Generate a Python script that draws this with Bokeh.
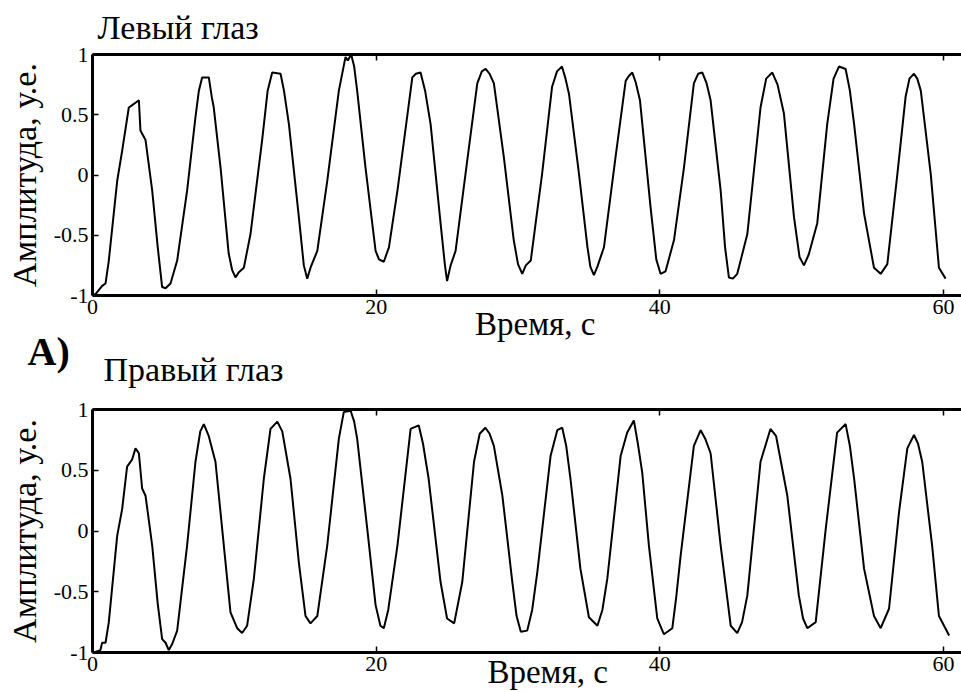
from bokeh.embed import file_html
from bokeh.layouts import column
from bokeh.models import FixedTicker, LinearAxis, Range1d, Title
from bokeh.plotting import figure
from bokeh.resources import INLINE

# Eye-movement recordings, time in seconds, amplitude in arbitrary units
left_t = [0.0, 0.2, 0.68, 0.92, 1.15, 1.74, 2.09, 2.56, 2.8, 3.03,
          3.27, 3.38, 3.74, 4.21, 4.6, 4.91, 5.15, 5.5, 5.97, 6.67,
          7.26, 7.5, 7.73, 8.2, 8.42, 8.55, 9.03, 9.6, 9.85, 10.08,
          10.3, 10.67, 11.14, 11.96, 12.35, 12.67, 13.26, 13.5, 13.85, 14.55,
          14.9, 15.14, 15.4, 15.85, 16.55, 17.37, 17.84, 18.0, 18.24, 18.45,
          18.66, 19.25, 19.96, 20.2, 20.54, 20.9, 21.5, 22.55, 22.8, 23.13,
          23.45, 23.84, 24.54, 24.85, 25.0, 25.25, 25.6, 26.3, 27.13, 27.45,
          27.72, 28.0, 28.3, 29.0, 29.7, 30.0, 30.3, 30.55, 30.9, 31.7,
          32.4, 32.75, 33.1, 33.35, 33.6, 34.3, 34.9, 35.1, 35.35, 35.6,
          36.06, 36.88, 37.59, 37.8, 38.06, 38.3, 38.6, 39.35, 39.75, 40.05,
          40.4, 41.0, 41.7, 42.4, 42.7, 43.0, 43.3, 43.58, 44.29, 44.6,
          44.87, 45.15, 45.46, 46.17, 47.1, 47.5, 47.93, 48.3, 48.75, 49.46,
          49.85, 50.16, 50.5, 51.1, 51.8, 52.25, 52.63, 53.1, 53.4, 53.7,
          54.4, 55.1, 55.57, 56.04, 56.75, 57.33, 57.6, 57.92, 58.15, 58.4,
          59.1, 59.68, 60.15]
left_amp = [-1.0, -0.99, -0.92, -0.9, -0.71, -0.05, 0.2, 0.56, 0.58, 0.6,
            0.62, 0.37, 0.29, -0.13, -0.6, -0.93, -0.94, -0.9, -0.71, -0.13,
            0.48, 0.7, 0.81, 0.81, 0.64, 0.56, 0.06, -0.65, -0.79, -0.85,
            -0.81, -0.77, -0.49, 0.29, 0.7, 0.85, 0.84, 0.7, 0.42, -0.35,
            -0.75, -0.86, -0.76, -0.63, -0.05, 0.7, 0.98, 0.95, 1.0, 0.9,
            0.7, 0.06, -0.63, -0.7, -0.72, -0.6, -0.13, 0.81, 0.84, 0.85,
            0.7, 0.42, -0.4, -0.75, -0.88, -0.75, -0.63, 0.01, 0.76, 0.86,
            0.88, 0.84, 0.76, 0.15, -0.54, -0.74, -0.82, -0.75, -0.71, 0.01,
            0.73, 0.86, 0.9, 0.8, 0.67, 0.01, -0.6, -0.76, -0.83, -0.76,
            -0.6, 0.15, 0.78, 0.82, 0.85, 0.77, 0.62, -0.27, -0.7, -0.82,
            -0.8, -0.54, 0.06, 0.76, 0.84, 0.85, 0.76, 0.62, -0.13, -0.6,
            -0.85, -0.86, -0.82, -0.49, 0.56, 0.8, 0.85, 0.75, 0.51, -0.35,
            -0.68, -0.75, -0.66, -0.4, 0.42, 0.8, 0.9, 0.88, 0.7, 0.42,
            -0.32, -0.77, -0.82, -0.74, 0.01, 0.65, 0.8, 0.84, 0.8, 0.7,
            0.01, -0.77, -0.86]

right_t = [0.1, 0.56, 0.68, 0.92, 1.15, 1.74, 2.09, 2.44, 2.8, 3.03,
           3.27, 3.5, 3.74, 4.21, 4.6, 4.91, 5.15, 5.38, 5.62, 5.97,
           6.67, 7.26, 7.6, 7.85, 8.2, 8.67, 9.14, 9.73, 10.2, 10.55,
           10.9, 11.38, 12.08, 12.55, 13.03, 13.38, 13.96, 14.55, 15.02, 15.37,
           15.85, 16.55, 17.37, 17.72, 18.2, 18.45, 18.66, 19.37, 19.96, 20.3,
           20.54, 20.85, 21.5, 22.43, 23.0, 23.3, 23.7, 24.54, 25.0, 25.5,
           26.07, 26.9, 27.3, 27.7, 28.0, 28.3, 28.9, 29.6, 29.9, 30.2,
           30.65, 31.0, 31.36, 32.3, 32.77, 33.12, 33.4, 33.7, 34.4, 35.0,
           35.6, 35.95, 36.3, 37.24, 37.7, 38.17, 38.45, 38.76, 39.23, 39.82,
           40.29, 40.88, 41.15, 41.47, 42.4, 42.88, 43.2, 43.58, 44.29, 45.0,
           45.46, 45.8, 46.17, 47.1, 47.8, 48.2, 48.99, 49.8, 50.1, 50.4,
           50.99, 51.7, 52.5, 53.1, 53.4, 53.7, 54.4, 55.1, 55.57, 56.16,
           56.86, 57.45, 57.92, 58.2, 58.5, 59.2, 59.68, 60.4]
right_amp = [-1.0, -0.98, -0.92, -0.92, -0.75, -0.04, 0.18, 0.53, 0.59, 0.68,
             0.64, 0.35, 0.29, -0.12, -0.6, -0.89, -0.92, -0.98, -0.93, -0.82,
             -0.12, 0.57, 0.82, 0.88, 0.78, 0.57, 0.02, -0.67, -0.8, -0.84,
             -0.78, -0.39, 0.43, 0.84, 0.9, 0.82, 0.43, -0.26, -0.7, -0.76,
             -0.7, -0.12, 0.76, 0.98, 0.99, 0.9, 0.76, 0.02, -0.61, -0.78,
             -0.8, -0.65, -0.12, 0.84, 0.87, 0.72, 0.43, -0.42, -0.72, -0.76,
             -0.42, 0.57, 0.8, 0.85, 0.8, 0.7, 0.29, -0.42, -0.7, -0.83,
             -0.82, -0.65, -0.34, 0.62, 0.83, 0.85, 0.7, 0.43, -0.31, -0.71,
             -0.78, -0.65, -0.39, 0.62, 0.81, 0.91, 0.72, 0.48, -0.12, -0.72,
             -0.85, -0.8, -0.55, -0.2, 0.7, 0.83, 0.76, 0.64, -0.12, -0.78,
             -0.84, -0.75, -0.53, 0.57, 0.84, 0.78, 0.29, -0.53, -0.72, -0.8,
             -0.75, 0.02, 0.81, 0.88, 0.7, 0.43, -0.31, -0.7, -0.8, -0.64,
             0.15, 0.68, 0.79, 0.72, 0.57, -0.12, -0.7, -0.86]

x_ticks = [0, 20, 40, 60]
y_ticks = [-1, -0.5, 0, 0.5, 1]
y_tick_labels = ["-1", "-0.5", "0", "0.5", "1"]
panel_titles = ["Левый глаз", "Правый глаз"]
x_label = "Время, с"
y_label = "Амплитуда, у.е."
panel_tag = "A)"

SERIF = "Liberation Serif"
X_END = 61.27
NBSP = "\u00a0"


def title(text, offset, standoff, size="34px", style="normal", valign="bottom"):
    return Title(text=text, align="left", offset=offset, standoff=standoff,
                 vertical_align=valign,
                 text_font=SERIF, text_font_size=size, text_font_style=style,
                 text_color="black")


def style_axis(ax):
    ax.axis_line_color = "black"
    ax.axis_line_width = 3
    ax.major_tick_line_color = "black"
    ax.major_tick_line_width = 1.5
    ax.major_tick_in = 6
    ax.major_tick_out = 0
    ax.minor_tick_line_color = None
    ax.major_label_text_font = SERIF
    ax.major_label_text_font_size = "22px"
    ax.major_label_text_color = "black"
    ax.major_label_standoff = 4
    ax.axis_label_text_font = SERIF
    ax.axis_label_text_font_style = "normal"
    ax.axis_label_text_color = "black"


def caption_axis(pad, standoff):
    # bare axis below the time axis that only carries the time caption
    ax = LinearAxis(ticker=FixedTicker(ticks=[x_ticks[0]]),
                    axis_label=NBSP * pad + x_label, axis_label_standoff=standoff)
    ax.axis_line_color = None
    ax.major_tick_line_color = None
    ax.minor_tick_line_color = None
    ax.major_tick_in = 0
    ax.major_tick_out = 0
    ax.major_label_text_color = None
    ax.major_label_text_font_size = "1px"
    ax.major_label_standoff = 0
    ax.axis_label_text_font = SERIF
    ax.axis_label_text_font_size = "33px"
    ax.axis_label_text_font_style = "normal"
    ax.axis_label_text_color = "black"
    return ax


def make_panel(t, amp, height, top, bottom):
    p = figure(width=961, height=height, output_backend="svg", toolbar_location=None,
               x_range=Range1d(0, X_END), y_range=Range1d(-1, 1),
               min_border_left=92, min_border_right=0,
               min_border_top=top, min_border_bottom=bottom,
               background_fill_color="white", border_fill_color="white")
    p.outline_line_color = None
    p.grid.visible = False
    p.line(t, amp, line_color="black", line_width=2)

    xaxis = p.below[0]
    yaxis = p.left[0]
    top_axis = LinearAxis()
    p.add_layout(top_axis, "above")

    xaxis.ticker = FixedTicker(ticks=x_ticks)
    top_axis.ticker = FixedTicker(ticks=x_ticks)
    yaxis.ticker = FixedTicker(ticks=y_ticks)
    yaxis.major_label_overrides = {v: s for v, s in zip(y_ticks, y_tick_labels)}
    xaxis.major_label_overrides = {v: str(v) for v in x_ticks}

    for ax in (xaxis, top_axis, yaxis):
        style_axis(ax)
    # the top edge only shows inward ticks, no numbers
    top_axis.major_label_text_color = None
    top_axis.major_label_text_font_size = "1px"
    top_axis.major_label_standoff = 0

    yaxis.axis_label = y_label
    yaxis.axis_label_text_font_size = "34px"
    yaxis.axis_label_standoff = 8
    return p


# upper panel: left eye; its lower margin also carries the heading of the next panel
top = make_panel(left_t, left_amp, 390, 54, 95)
top.add_layout(title(panel_titles[0], 5, 14, valign="top"), "above")
top.add_layout(caption_axis(2, -11), "below")
top.add_layout(title(panel_tag, -65, -35, "40px", "bold"), "below")
top.add_layout(title(panel_titles[1], 11, -16), "below")

# lower panel: right eye
bot = make_panel(right_t, right_amp, 302, 19, 40)
bot.add_layout(caption_axis(5, -20), "below")

layout = column(top, bot, spacing=0)
open("out.html", "w").write(file_html(layout, INLINE))
